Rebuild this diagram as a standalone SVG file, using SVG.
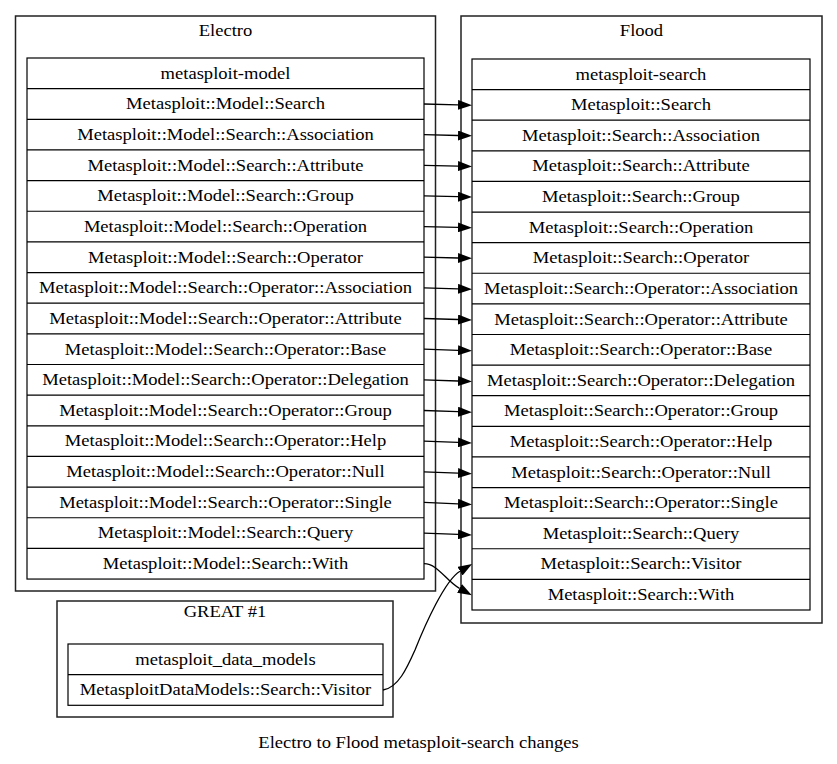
<svg xmlns="http://www.w3.org/2000/svg" width="837" height="764" viewBox="0 0 837 764">
<style>
.bg{fill:#fff}
.cl{fill:none;stroke:#222;stroke-width:1.5}
.tb{fill:#fff;stroke:#000;stroke-width:1.2}
.sep{stroke:#000;stroke-width:1.2}
.t{font-family:"Liberation Serif","Times New Roman",serif;font-size:16px;text-anchor:middle;fill:#000}
.e{fill:none;stroke:#000;stroke-width:1.3}
</style>
<defs>
<marker id="ah" markerUnits="userSpaceOnUse" viewBox="0 0 14 10" refX="0" refY="5" markerWidth="14" markerHeight="10" orient="auto">
<path d="M0,0 L14,5 L0,10 Z" fill="#000"/>
</marker>
</defs>
<rect class="bg" x="0" y="0" width="837" height="764"/>

<g id="cluster-electro">
<rect class="cl" x="15.5" y="16" width="420" height="575"/>
<text class="t" transform="translate(225.5,36) scale(1.16,1)">Electro</text>
</g>

<g id="cluster-flood">
<rect class="cl" x="461" y="16" width="361" height="607"/>
<text class="t" transform="translate(641.5,36) scale(1.16,1)">Flood</text>
</g>

<g id="cluster-great">
<rect class="cl" x="57" y="601" width="336" height="116"/>
<text class="t" transform="translate(225,617) scale(1.16,1)">GREAT #1</text>
</g>

<g id="node-metasploit-model">
<rect class="tb" x="27" y="58" width="397" height="521.05"/>
<path class="sep" d="M27,88.65H424M27,119.3H424M27,149.95H424M27,180.6H424M27,211.25H424M27,241.9H424M27,272.55H424M27,303.2H424M27,333.85H424M27,364.5H424M27,395.15H424M27,425.8H424M27,456.45H424M27,487.1H424M27,517.75H424M27,548.4H424"/>
<text class="t" transform="translate(225.5,78.6) scale(1.16,1)">metasploit-model</text>
<text class="t" transform="translate(225.5,109.3) scale(1.16,1)">Metasploit::Model::Search</text>
<text class="t" transform="translate(225.5,139.9) scale(1.16,1)">Metasploit::Model::Search::Association</text>
<text class="t" transform="translate(225.5,170.6) scale(1.16,1)">Metasploit::Model::Search::Attribute</text>
<text class="t" transform="translate(225.5,201.2) scale(1.16,1)">Metasploit::Model::Search::Group</text>
<text class="t" transform="translate(225.5,231.9) scale(1.16,1)">Metasploit::Model::Search::Operation</text>
<text class="t" transform="translate(225.5,262.5) scale(1.16,1)">Metasploit::Model::Search::Operator</text>
<text class="t" transform="translate(225.5,293.2) scale(1.16,1)">Metasploit::Model::Search::Operator::Association</text>
<text class="t" transform="translate(225.5,323.8) scale(1.16,1)">Metasploit::Model::Search::Operator::Attribute</text>
<text class="t" transform="translate(225.5,354.5) scale(1.16,1)">Metasploit::Model::Search::Operator::Base</text>
<text class="t" transform="translate(225.5,385.1) scale(1.16,1)">Metasploit::Model::Search::Operator::Delegation</text>
<text class="t" transform="translate(225.5,415.8) scale(1.16,1)">Metasploit::Model::Search::Operator::Group</text>
<text class="t" transform="translate(225.5,446.4) scale(1.16,1)">Metasploit::Model::Search::Operator::Help</text>
<text class="t" transform="translate(225.5,477.1) scale(1.16,1)">Metasploit::Model::Search::Operator::Null</text>
<text class="t" transform="translate(225.5,507.7) scale(1.16,1)">Metasploit::Model::Search::Operator::Single</text>
<text class="t" transform="translate(225.5,538.4) scale(1.16,1)">Metasploit::Model::Search::Query</text>
<text class="t" transform="translate(225.5,569) scale(1.16,1)">Metasploit::Model::Search::With</text>
</g>

<g id="node-metasploit-search">
<rect class="tb" x="472" y="59" width="338" height="551"/>
<path class="sep" d="M472,89.61H810M472,120.22H810M472,150.83H810M472,181.44H810M472,212.05H810M472,242.66H810M472,273.27H810M472,303.88H810M472,334.49H810M472,365.1H810M472,395.71H810M472,426.32H810M472,456.93H810M472,487.54H810M472,518.15H810M472,548.76H810M472,579.37H810"/>
<text class="t" transform="translate(641,79.6) scale(1.16,1)">metasploit-search</text>
<text class="t" transform="translate(641,110.2) scale(1.16,1)">Metasploit::Search</text>
<text class="t" transform="translate(641,140.8) scale(1.16,1)">Metasploit::Search::Association</text>
<text class="t" transform="translate(641,171.4) scale(1.16,1)">Metasploit::Search::Attribute</text>
<text class="t" transform="translate(641,202) scale(1.16,1)">Metasploit::Search::Group</text>
<text class="t" transform="translate(641,232.7) scale(1.16,1)">Metasploit::Search::Operation</text>
<text class="t" transform="translate(641,263.3) scale(1.16,1)">Metasploit::Search::Operator</text>
<text class="t" transform="translate(641,293.9) scale(1.16,1)">Metasploit::Search::Operator::Association</text>
<text class="t" transform="translate(641,324.5) scale(1.16,1)">Metasploit::Search::Operator::Attribute</text>
<text class="t" transform="translate(641,355.1) scale(1.16,1)">Metasploit::Search::Operator::Base</text>
<text class="t" transform="translate(641,385.7) scale(1.16,1)">Metasploit::Search::Operator::Delegation</text>
<text class="t" transform="translate(641,416.3) scale(1.16,1)">Metasploit::Search::Operator::Group</text>
<text class="t" transform="translate(641,446.9) scale(1.16,1)">Metasploit::Search::Operator::Help</text>
<text class="t" transform="translate(641,477.5) scale(1.16,1)">Metasploit::Search::Operator::Null</text>
<text class="t" transform="translate(641,508.1) scale(1.16,1)">Metasploit::Search::Operator::Single</text>
<text class="t" transform="translate(641,538.8) scale(1.16,1)">Metasploit::Search::Query</text>
<text class="t" transform="translate(641,569.4) scale(1.16,1)">Metasploit::Search::Visitor</text>
<text class="t" transform="translate(641,600) scale(1.16,1)">Metasploit::Search::With</text>
</g>

<g id="node-metasploit_data_models">
<rect class="tb" x="68" y="644" width="315" height="61.3"/>
<path class="sep" d="M68,674.65H383"/>
<text class="t" transform="translate(225.5,664.6) scale(1.16,1)">metasploit_data_models</text>
<text class="t" transform="translate(225.5,695.3) scale(1.16,1)">MetasploitDataModels::Search::Visitor</text>
</g>

<g id="connectors">
<path class="e" marker-end="url(#ah)" d="M424,104L458,104.9"/>
<path class="e" marker-end="url(#ah)" d="M424,134.6L458,135.5"/>
<path class="e" marker-end="url(#ah)" d="M424,165.3L458,166.1"/>
<path class="e" marker-end="url(#ah)" d="M424,195.9L458,196.7"/>
<path class="e" marker-end="url(#ah)" d="M424,226.6L458,227.4"/>
<path class="e" marker-end="url(#ah)" d="M424,257.2L458,258"/>
<path class="e" marker-end="url(#ah)" d="M424,287.9L458,288.8"/>
<path class="e" marker-end="url(#ah)" d="M424,318.5L458,319.5"/>
<path class="e" marker-end="url(#ah)" d="M424,349.2L458,350.3"/>
<path class="e" marker-end="url(#ah)" d="M424,379.8L458,381"/>
<path class="e" marker-end="url(#ah)" d="M424,410.5L458,411.7"/>
<path class="e" marker-end="url(#ah)" d="M424,441.1L458,442.4"/>
<path class="e" marker-end="url(#ah)" d="M424,471.8L458,473.1"/>
<path class="e" marker-end="url(#ah)" d="M424,502.4L458,503.8"/>
<path class="e" marker-end="url(#ah)" d="M424,533.1L458,534.4"/>
<path class="e" marker-end="url(#ah)" d="M424,563.7C438,563.7 446,581 459.5,588.4"/>
<path class="e" marker-end="url(#ah)" d="M383,690C398,688 407,668 415,650C425,625 445,580 460,571.2"/>
</g>

<text class="t" transform="translate(418.5,748) scale(1.16,1)">Electro to Flood metasploit-search changes</text>
</svg>
